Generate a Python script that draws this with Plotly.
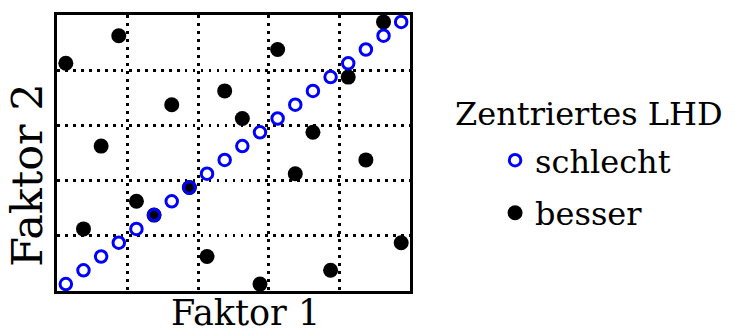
import plotly.graph_objects as go

# Centred Latin hypercube, 20 levels on [0, 1]
bad_x = [0.025, 0.075, 0.125, 0.175, 0.225, 0.275, 0.325, 0.375, 0.425, 0.475,
         0.525, 0.575, 0.625, 0.675, 0.725, 0.775, 0.825, 0.875, 0.925, 0.975]
bad_y = [0.025, 0.075, 0.125, 0.175, 0.225, 0.275, 0.325, 0.375, 0.425, 0.475,
         0.525, 0.575, 0.625, 0.675, 0.725, 0.775, 0.825, 0.875, 0.925, 0.975]

good_x = [0.025, 0.075, 0.125, 0.175, 0.225, 0.275, 0.325, 0.375, 0.425, 0.475,
          0.525, 0.575, 0.625, 0.675, 0.725, 0.775, 0.825, 0.875, 0.925, 0.975]
good_y = [0.825, 0.225, 0.525, 0.925, 0.325, 0.275, 0.675, 0.375, 0.125, 0.725,
          0.625, 0.025, 0.875, 0.425, 0.575, 0.075, 0.775, 0.475, 0.975, 0.175]

grid_vals = [0.2, 0.4, 0.6, 0.8]

legend_title = "Zentriertes LHD"
name_bad = "schlecht"
name_good = "besser"
x_title = "Faktor 1"
y_title = "Faktor 2"

FONT = "DejaVu Serif"

fig = go.Figure()
fig.add_trace(go.Scatter(
    x=good_x, y=good_y, mode="markers", name=name_good,
    marker=dict(symbol="circle", size=15, color="black"),
    cliponaxis=False, legendrank=2, legendgroup="g",
))
fig.add_trace(go.Scatter(
    x=bad_x, y=bad_y, mode="markers", name=name_bad,
    marker=dict(symbol="circle-open", size=11.5, color="#0000ff",
                line=dict(width=3, color="#0000ff")),
    cliponaxis=False, legendrank=1, legendgroup="b",
))

axis_common = dict(
    range=[0, 1], tickvals=grid_vals, showticklabels=False, ticks="",
    showgrid=True, gridcolor="black", gridwidth=2.5, griddash="2.5px,5.5px",
    showline=True, linecolor="black", linewidth=3, mirror=True,
    zeroline=False, fixedrange=True,
)
fig.update_xaxes(**axis_common)
fig.update_yaxes(**axis_common)

fig.add_annotation(text=x_title, xref="paper", yref="paper", x=0.535, y=0,
                   yanchor="middle", yshift=-22, showarrow=False,
                   font=dict(family=FONT, size=35, color="black"))
fig.add_annotation(text=y_title, xref="paper", yref="paper", x=-0.086, y=0.42,
                   xanchor="center", yanchor="middle", textangle=-90, showarrow=False,
                   font=dict(family=FONT, size=43, color="black"))
fig.add_annotation(text=legend_title, xref="paper", yref="paper", x=1.5075, y=0.643,
                   xanchor="center", yanchor="middle", showarrow=False,
                   font=dict(family=FONT, size=32, color="black"))

fig.update_layout(
    width=735, height=333,
    margin=dict(l=57, r=325, t=13, b=42),
    plot_bgcolor="white", paper_bgcolor="white",
    font=dict(family=FONT, color="black"),
    showlegend=True,
    legend=dict(x=1.241, y=0.573, xanchor="left", yanchor="top",
                font=dict(family=FONT, size=32, color="black"),
                bgcolor="rgba(0,0,0,0)", tracegroupgap=8,
                itemsizing="trace"),
)

fig.write_html("out.html")
